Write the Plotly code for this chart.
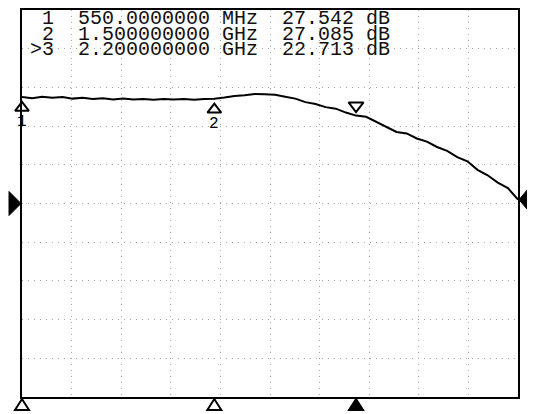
"""Network analyzer style gain trace with marker readout."""

import plotly.graph_objects as go

# sweep: 550 MHz .. 3 GHz, gain in dB (10 dB/div, ref 0 dB at centre)
freq_mhz = [550, 600, 650, 700, 750, 800, 850, 900, 950, 1000,
            1050, 1100, 1150, 1200, 1250, 1300, 1350, 1400, 1450, 1500,
            1550, 1600, 1650, 1700, 1750, 1800, 1850, 1900, 1950, 2000,
            2050, 2100, 2150, 2200, 2250, 2300, 2350, 2400, 2450, 2500,
            2550, 2600, 2650, 2700, 2750, 2800, 2850, 2900, 2950, 3000]
gain_db = [27.54, 27.2, 27.6, 27.3, 27.5, 27.1, 27.3, 27.0, 27.2, 26.9,
           27.1, 26.9, 27.0, 26.8, 27.0, 26.9, 27.0, 26.8, 27.0, 27.09,
           27.4, 27.8, 28.0, 28.3, 28.2, 28.1, 27.6, 27.1, 26.2, 25.7,
           24.9, 24.5, 23.5, 22.71, 22.4, 21.1, 20.0, 18.5, 18.1, 16.8,
           16.0, 14.6, 13.6, 12.0, 10.9, 8.7, 7.3, 5.4, 4.0, 1.0]

marker_ids = ["1", "2", "3"]
marker_freq = [550, 1500, 2200]
marker_gain = [27.542, 27.085, 22.713]
marker_text = [" 1  550.0000000 MHz  27.542 dB",
               " 2  1.500000000 GHz  27.085 dB",
               ">3  2.200000000 GHz  22.713 dB"]
active_marker = 2

ref_level = [0, 1]  # channel reference arrows, left / right

f_start, f_stop = 550, 3000
y_min, y_max = -50, 50

# the page body adds an 8px offset, so the figure is a bit smaller than the window
W, H = 527, 406
M = dict(l=14, r=17, t=0, b=17)
px_per_db = (H - M["t"] - M["b"]) / (y_max - y_min)


def xfrac(f):
    return (f - f_start) / (f_stop - f_start)


def yfrac(v):
    return (v - y_min) / (y_max - y_min)


fig = go.Figure()

fig.add_trace(go.Scatter(
    x=freq_mhz, y=gain_db, mode="lines",
    line=dict(color="black", width=2),
    hoverinfo="skip",
))

# passive markers (1, 2): open triangle under the trace
fig.add_trace(go.Scatter(
    x=marker_freq[:2],
    y=[g - 11 / px_per_db for g in marker_gain[:2]],
    mode="markers",
    marker=dict(symbol="triangle-up-open", size=12, color="black",
                line=dict(width=2, color="black")),
    cliponaxis=False,
))
# active marker (3): open triangle above the trace
fig.add_trace(go.Scatter(
    x=marker_freq[2:],
    y=[g + 10 / px_per_db for g in marker_gain[2:]],
    mode="markers",
    marker=dict(symbol="triangle-down-open", size=13, color="black",
                line=dict(width=2, color="black")),
    cliponaxis=False,
))

# marker position triangles under the graticule
for i, f in enumerate(marker_freq):
    fig.add_shape(
        type="path", xref="paper", yref="paper",
        xsizemode="pixel", ysizemode="pixel",
        xanchor=xfrac(f), yanchor=0,
        path="M -7 -13 L 7 -13 L 0 -2 Z",
        line=dict(color="black", width=2),
        fillcolor="black" if i == active_marker else "white",
    )

# reference level arrows on both sides
fig.add_shape(
    type="path", xref="paper", yref="paper",
    xsizemode="pixel", ysizemode="pixel",
    xanchor=0, yanchor=yfrac(ref_level[0]),
    path="M -13 12 L -1 0 L -13 -12 Z",
    line=dict(color="black", width=1), fillcolor="black",
)
fig.add_shape(
    type="path", xref="paper", yref="paper",
    xsizemode="pixel", ysizemode="pixel",
    xanchor=1, yanchor=yfrac(ref_level[1]),
    path="M 12 13 L 1 0 L 12 -13 Z",
    line=dict(color="black", width=1), fillcolor="black",
)

for mid, f, g in zip(marker_ids[:2], marker_freq[:2], marker_gain[:2]):
    fig.add_annotation(x=f, y=g, text=mid, showarrow=False, yshift=-25,
                       font=dict(family="Liberation Mono", size=16, color="black"))

for i, line in enumerate(marker_text):
    fig.add_annotation(
        xref="paper", yref="paper", x=0, y=1, xanchor="left", yanchor="top",
        xshift=6, yshift=5 - 15.5 * i, text=line.replace(" ", "&nbsp;"),
        showarrow=False,
        font=dict(family="Liberation Mono", size=20, color="#111111"),
    )

fig.update_layout(
    width=W, height=H,
    margin=M,
    paper_bgcolor="white",
    plot_bgcolor="white",
    showlegend=False,
)
fig.update_xaxes(
    range=[f_start, f_stop], dtick=(f_stop - f_start) / 10, tick0=f_start,
    showticklabels=False, ticks="", zeroline=False,
    showgrid=True, gridcolor="#a8a8a8", griddash="1px,5px", gridwidth=1,
    showline=True, mirror=True, linecolor="black", linewidth=2,
)
fig.update_yaxes(
    range=[y_min, y_max], dtick=10, tick0=y_min,
    showticklabels=False, ticks="", zeroline=False,
    showgrid=True, gridcolor="#a8a8a8", griddash="1px,5px", gridwidth=1,
    showline=True, mirror=True, linecolor="black", linewidth=2,
)

fig.write_html("out.html")
